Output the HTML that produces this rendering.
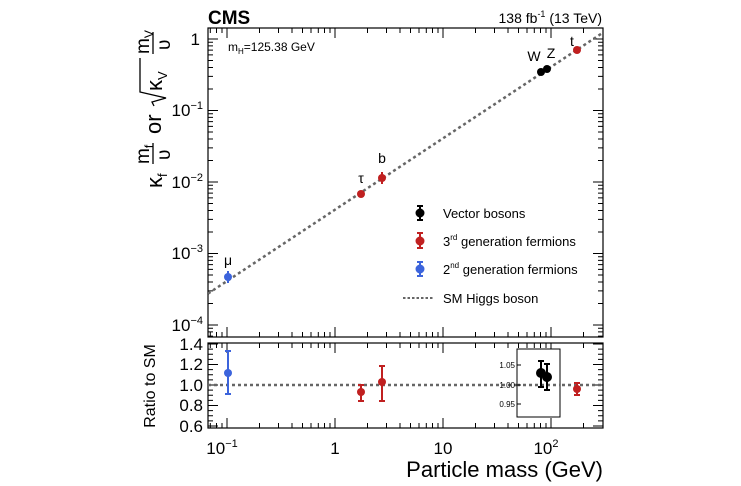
<!DOCTYPE html>
<html><head><meta charset="utf-8"><style>
html,body{margin:0;padding:0;background:#fff}
svg{display:block;font-family:"Liberation Sans",Arial,sans-serif}
</style></head><body>
<svg width="741" height="486" viewBox="0 0 741 486" xmlns="http://www.w3.org/2000/svg">
<defs><clipPath id="cm"><rect x="208" y="28" width="395" height="309"/></clipPath></defs>
<rect width="741" height="486" fill="#fff"/>
<text x="208" y="24" font-size="19" font-weight="bold">CMS</text>
<text x="602" y="23" font-size="14" text-anchor="end">138 fb<tspan dy="-6" font-size="9">-1</tspan><tspan dy="6"> (13 TeV)</tspan></text>
<g fill="none" stroke="#000" stroke-width="1.2">
<rect x="208" y="28" width="395" height="309"/>
<rect x="208" y="343" width="395" height="85"/>
</g>
<g stroke="#000" stroke-width="1" fill="none">
<path d="M227 337v-10M335 337v-10M443 337v-10M551 337v-10 M227 28v10M335 28v10M443 28v10M551 28v10 M227 428v-10M335 428v-10M443 428v-10M551 428v-10 M227 343v10M335 343v10M443 343v10M551 343v10"/>
<path d="M210.3 337v-5M216.5 337v-5M222 337v-5M259.5 337v-5M278.5 337v-5M292 337v-5M302.5 337v-5M311 337v-5M318.3 337v-5M324.5 337v-5M330 337v-5M367.5 337v-5M386.5 337v-5M400 337v-5M410.5 337v-5M419 337v-5M426.3 337v-5M432.5 337v-5M438 337v-5M475.5 337v-5M494.5 337v-5M508 337v-5M518.5 337v-5M527 337v-5M534.3 337v-5M540.5 337v-5M546 337v-5M583.5 337v-5"/>
<path transform="translate(0,-304)" d="M210.3 337v-5M216.5 337v-5M222 337v-5M259.5 337v-5M278.5 337v-5M292 337v-5M302.5 337v-5M311 337v-5M318.3 337v-5M324.5 337v-5M330 337v-5M367.5 337v-5M386.5 337v-5M400 337v-5M410.5 337v-5M419 337v-5M426.3 337v-5M432.5 337v-5M438 337v-5M475.5 337v-5M494.5 337v-5M508 337v-5M518.5 337v-5M527 337v-5M534.3 337v-5M540.5 337v-5M546 337v-5M583.5 337v-5"/>
<path transform="translate(0,91)" d="M210.3 337v-5M216.5 337v-5M222 337v-5M259.5 337v-5M278.5 337v-5M292 337v-5M302.5 337v-5M311 337v-5M318.3 337v-5M324.5 337v-5M330 337v-5M367.5 337v-5M386.5 337v-5M400 337v-5M410.5 337v-5M419 337v-5M426.3 337v-5M432.5 337v-5M438 337v-5M475.5 337v-5M494.5 337v-5M508 337v-5M518.5 337v-5M527 337v-5M534.3 337v-5M540.5 337v-5M546 337v-5M583.5 337v-5"/>
<path transform="translate(0,11)" d="M210.3 337v-5M216.5 337v-5M222 337v-5M259.5 337v-5M278.5 337v-5M292 337v-5M302.5 337v-5M311 337v-5M318.3 337v-5M324.5 337v-5M330 337v-5M367.5 337v-5M386.5 337v-5M400 337v-5M410.5 337v-5M419 337v-5M426.3 337v-5M432.5 337v-5M438 337v-5M475.5 337v-5M494.5 337v-5M508 337v-5M518.5 337v-5M527 337v-5M534.3 337v-5M540.5 337v-5M546 337v-5M583.5 337v-5"/>
<path d="M208 39h10M208 110.5h10M208 182h10M208 253.5h10M208 325h10 M208 328.3h5M208 331.9h5M208 336.1h5 M208 303.5h5M208 290.9h5M208 282h5M208 275h5M208 269.4h5M208 264.6h5M208 260.4h5M208 256.8h5 M208 232h5M208 219.4h5M208 210.5h5M208 203.5h5M208 197.9h5M208 193.1h5M208 188.9h5M208 185.3h5 M208 160.5h5M208 147.9h5M208 139h5M208 132h5M208 126.4h5M208 121.6h5M208 117.4h5M208 113.8h5 M208 89h5M208 76.4h5M208 67.5h5M208 60.5h5M208 54.9h5M208 50.1h5M208 45.9h5M208 42.3h5"/>
<path transform="translate(811,0) scale(-1,1)" d="M208 39h10M208 110.5h10M208 182h10M208 253.5h10M208 325h10 M208 328.3h5M208 331.9h5M208 336.1h5 M208 303.5h5M208 290.9h5M208 282h5M208 275h5M208 269.4h5M208 264.6h5M208 260.4h5M208 256.8h5 M208 232h5M208 219.4h5M208 210.5h5M208 203.5h5M208 197.9h5M208 193.1h5M208 188.9h5M208 185.3h5 M208 160.5h5M208 147.9h5M208 139h5M208 132h5M208 126.4h5M208 121.6h5M208 117.4h5M208 113.8h5 M208 89h5M208 76.4h5M208 67.5h5M208 60.5h5M208 54.9h5M208 50.1h5M208 45.9h5M208 42.3h5"/>
<path d="M208 344h10M208 364.5h10M208 385h10M208 405.5h10M208 426h10 M208 349.1h5M208 354.3h5M208 359.4h5M208 369.6h5M208 374.8h5M208 379.9h5M208 390.1h5M208 395.3h5M208 400.4h5M208 410.6h5M208 415.8h5M208 420.9h5"/>
<path transform="translate(811,0) scale(-1,1)" d="M208 344h10M208 364.5h10M208 385h10M208 405.5h10M208 426h10 M208 349.1h5M208 354.3h5M208 359.4h5M208 369.6h5M208 374.8h5M208 379.9h5M208 390.1h5M208 395.3h5M208 400.4h5M208 410.6h5M208 415.8h5M208 420.9h5"/>
</g>
<line x1="208" y1="293.6" x2="603" y2="32.6" stroke="#666" stroke-width="2.5" stroke-dasharray="3,3" clip-path="url(#cm)"/>
<line x1="208" y1="385" x2="603" y2="385" stroke="#666" stroke-width="2.5" stroke-dasharray="3,3"/>
<g font-size="17" text-anchor="end">
<text x="200" y="45">1</text>
<text x="203" y="116">10<tspan dy="-7" font-size="11">−1</tspan></text>
<text x="203" y="188">10<tspan dy="-7" font-size="11">−2</tspan></text>
<text x="203" y="259">10<tspan dy="-7" font-size="11">−3</tspan></text>
<text x="203" y="331">10<tspan dy="-7" font-size="11">−4</tspan></text>
</g>
<g font-size="17" text-anchor="end">
<text x="203" y="350">1.4</text><text x="203" y="370">1.2</text><text x="203" y="391">1.0</text><text x="203" y="411">0.8</text><text x="203" y="432">0.6</text>
</g>
<g font-size="17" text-anchor="middle">
<text x="222" y="454">10<tspan dy="-7" font-size="11">−1</tspan></text>
<text x="335" y="454">1</text><text x="443" y="454">10</text>
<text x="546" y="454">10<tspan dy="-7" font-size="11">2</tspan></text>
</g>
<text x="603" y="477" font-size="22" text-anchor="end">Particle mass (GeV)</text>
<text transform="translate(155,386) rotate(-90)" font-size="16" text-anchor="middle">Ratio to SM</text>
<g transform="translate(152,110) rotate(-90)" font-size="22">
<text x="-78" y="10">κ<tspan font-size="13" dy="5">f</tspan></text>
<text x="-54" y="-3" font-size="19">m<tspan font-size="12" dy="4">f</tspan></text>
<line x1="-54" y1="1" x2="-33" y2="1" stroke="#000" stroke-width="1.3"/>
<text x="-50" y="18" font-size="19">υ</text>
<text x="-24" y="9">or</text>
<path d="M4,2 L8,0 L12,14 L18,-12 L52,-12" fill="none" stroke="#000" stroke-width="1.3"/>
<text x="19" y="10">κ<tspan font-size="13" dy="5">V</tspan></text>
<text x="56" y="-3" font-size="19">m<tspan font-size="12" dy="4">V</tspan></text>
<line x1="56" y1="1" x2="78" y2="1" stroke="#000" stroke-width="1.3"/>
<text x="60" y="18" font-size="19">υ</text>
</g>
<text x="228" y="51" font-size="12">m<tspan font-size="8" dy="3">H</tspan><tspan dy="-3">=125.38 GeV</tspan></text>
<g font-size="14" text-anchor="middle">
<text x="228" y="265">μ</text><text x="361" y="183">τ</text><text x="382" y="163">b</text>
<text x="534" y="61">W</text><text x="551" y="58">Z</text><text x="572" y="46">t</text>
</g>
<g stroke-width="2">
<line x1="228" y1="271" x2="228" y2="283" stroke="#3c64dc"/><circle cx="228" cy="277" r="4" fill="#3c64dc"/>
<circle cx="361" cy="194" r="4" fill="#c02020"/>
<line x1="382" y1="172" x2="382" y2="184" stroke="#c02020"/><circle cx="382" cy="178" r="4" fill="#c02020"/>
<circle cx="541" cy="72" r="4" fill="#000"/><circle cx="547" cy="69" r="4" fill="#000"/>
<circle cx="577" cy="50" r="4" fill="#c02020"/>
</g>
<g stroke-width="2">
<g stroke="#3c64dc" fill="#3c64dc"><line x1="228" y1="351" x2="228" y2="394"/><line x1="225" y1="351" x2="231" y2="351"/><line x1="225" y1="394" x2="231" y2="394"/><circle cx="228" cy="373" r="4" stroke="none"/></g>
<g stroke="#c02020" fill="#c02020"><line x1="361" y1="385" x2="361" y2="401"/><line x1="358" y1="385" x2="364" y2="385"/><line x1="358" y1="401" x2="364" y2="401"/><circle cx="361" cy="392" r="4" stroke="none"/>
<line x1="382" y1="366" x2="382" y2="401"/><line x1="379" y1="366" x2="385" y2="366"/><line x1="379" y1="401" x2="385" y2="401"/><circle cx="382" cy="382" r="4" stroke="none"/>
<line x1="577" y1="383" x2="577" y2="395"/><line x1="574" y1="383" x2="580" y2="383"/><line x1="574" y1="395" x2="580" y2="395"/><circle cx="577" cy="389" r="4" stroke="none"/></g>
</g>
<rect x="517" y="349" width="43" height="68" fill="#fff" stroke="#000" stroke-width="1"/>
<line x1="517" y1="385" x2="560" y2="385" stroke="#666" stroke-width="2.5" stroke-dasharray="3,3"/>
<g stroke="#000" stroke-width="1"><line x1="517" y1="365" x2="521" y2="365"/><line x1="517" y1="385" x2="521" y2="385"/><line x1="517" y1="404" x2="521" y2="404"/></g>
<g font-size="8" text-anchor="end"><text x="515" y="368">1.05</text><text x="515" y="388">1.00</text><text x="515" y="407">0.95</text></g>
<g stroke="#000" stroke-width="2"><line x1="541" y1="361" x2="541" y2="387"/><line x1="538" y1="361" x2="544" y2="361"/><line x1="538" y1="387" x2="544" y2="387"/><circle cx="541" cy="373" r="4"/>
<line x1="547" y1="364" x2="547" y2="390"/><line x1="544" y1="364" x2="550" y2="364"/><line x1="544" y1="390" x2="550" y2="390"/><circle cx="547" cy="377" r="4"/></g>
<g stroke-width="2">
<g stroke="#000"><line x1="420" y1="206" x2="420" y2="220"/><line x1="417" y1="206" x2="423" y2="206"/><line x1="417" y1="220" x2="423" y2="220"/><circle cx="420" cy="213" r="3.5" fill="#000"/></g>
<g stroke="#c02020"><line x1="420" y1="233" x2="420" y2="248"/><line x1="417" y1="233" x2="423" y2="233"/><line x1="417" y1="248" x2="423" y2="248"/><circle cx="420" cy="241" r="3.5" fill="#c02020"/></g>
<g stroke="#3c64dc"><line x1="420" y1="262" x2="420" y2="276"/><line x1="417" y1="262" x2="423" y2="262"/><line x1="417" y1="276" x2="423" y2="276"/><circle cx="420" cy="269" r="3.5" fill="#3c64dc"/></g>
<line x1="403" y1="298" x2="433" y2="298" stroke="#666" stroke-width="2" stroke-dasharray="2.5,2"/>
</g>
<g font-size="13">
<text x="443" y="218">Vector bosons</text>
<text x="443" y="246">3<tspan font-size="8" dy="-6">rd</tspan><tspan dy="6"> generation fermions</tspan></text>
<text x="443" y="274">2<tspan font-size="8" dy="-6">nd</tspan><tspan dy="6"> generation fermions</tspan></text>
<text x="443" y="303">SM Higgs boson</text>
</g>
</svg>
</body></html>
